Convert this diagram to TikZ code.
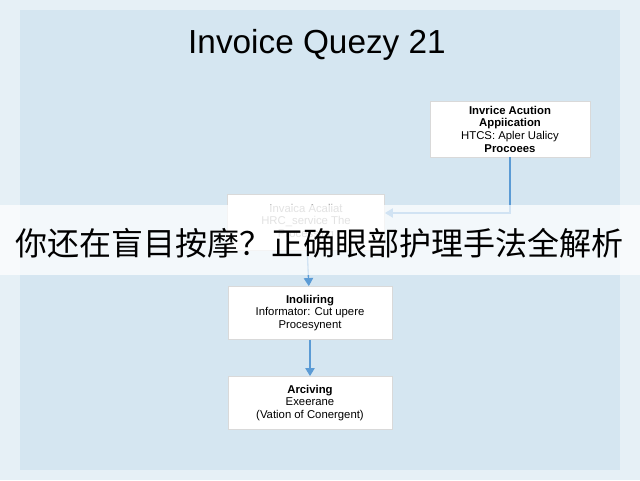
\documentclass[tikz,border=0pt]{standalone}
\usepackage{fontspec}
\setmainfont{Liberation Sans}
\newfontfamily\cjk{Noto Sans CJK SC}
\usetikzlibrary{positioning,arrows.meta}
\definecolor{bgblue}{HTML}{D5E6F1}
\definecolor{edgeblue}{HTML}{E6F0F6}
\definecolor{arrowblue}{HTML}{5B9BD5}
\tikzset{
  stepbox/.style={draw=white!85!black, fill=white, minimum width=120pt, minimum height=42pt, align=center, font=\fontsize{8.5}{9.5}\selectfont, inner sep=1pt},
  flow/.style={-{Triangle[length=6pt,width=7pt]}, arrowblue, line width=1pt}
}
\begin{document}
\begin{tikzpicture}[x=0.75pt,y=-0.75pt]
      \useasboundingbox (0,0) rectangle (640,480);
      \fill[edgeblue] (0,0) rectangle (640,480);
      \fill[bgblue] (20,10) rectangle (620,470);

      \node (title) at (317,45) {\fontsize{25}{30}\selectfont Invoice Quezy 21};

      \node[stepbox] (app) at (510,129) {\textbf{Invrice Acution}\\\textbf{Appiication}\\HTCS: Apler Ualicy\\\textbf{Procoees}};
      \node[stepbox, minimum width=118pt, text=black!40] (acal) at (306,222) {Invaica Acaliat\\HRC\_service The\\Processing};
      \node[stepbox, minimum width=123pt, minimum height=40pt] (info) at (310,313) {\textbf{Inoliiring}\\Informator: Cut upere\\Procesynent};
      \node[stepbox, minimum width=123pt, minimum height=40pt] (arch) at (310,403) {\textbf{Arciving}\\Exeerane\\(Vation of Conergent)};

      \coordinate (bend) at (510,213);
      \draw[flow, line width=0.8pt] (app.south) -- (bend) -- (acal.east |- bend);
      \draw[flow] (acal) -- (info);
      \draw[flow] (info) -- (arch);

      % banner
      \fill[white, opacity=0.72] (0,205) rectangle (640,275);
      \node (banner) at (320,243) {\cjk\fontsize{24}{28}\selectfont 你还在盲目按摩？正确眼部护理手法全解析};
\end{tikzpicture}
\end{document}
